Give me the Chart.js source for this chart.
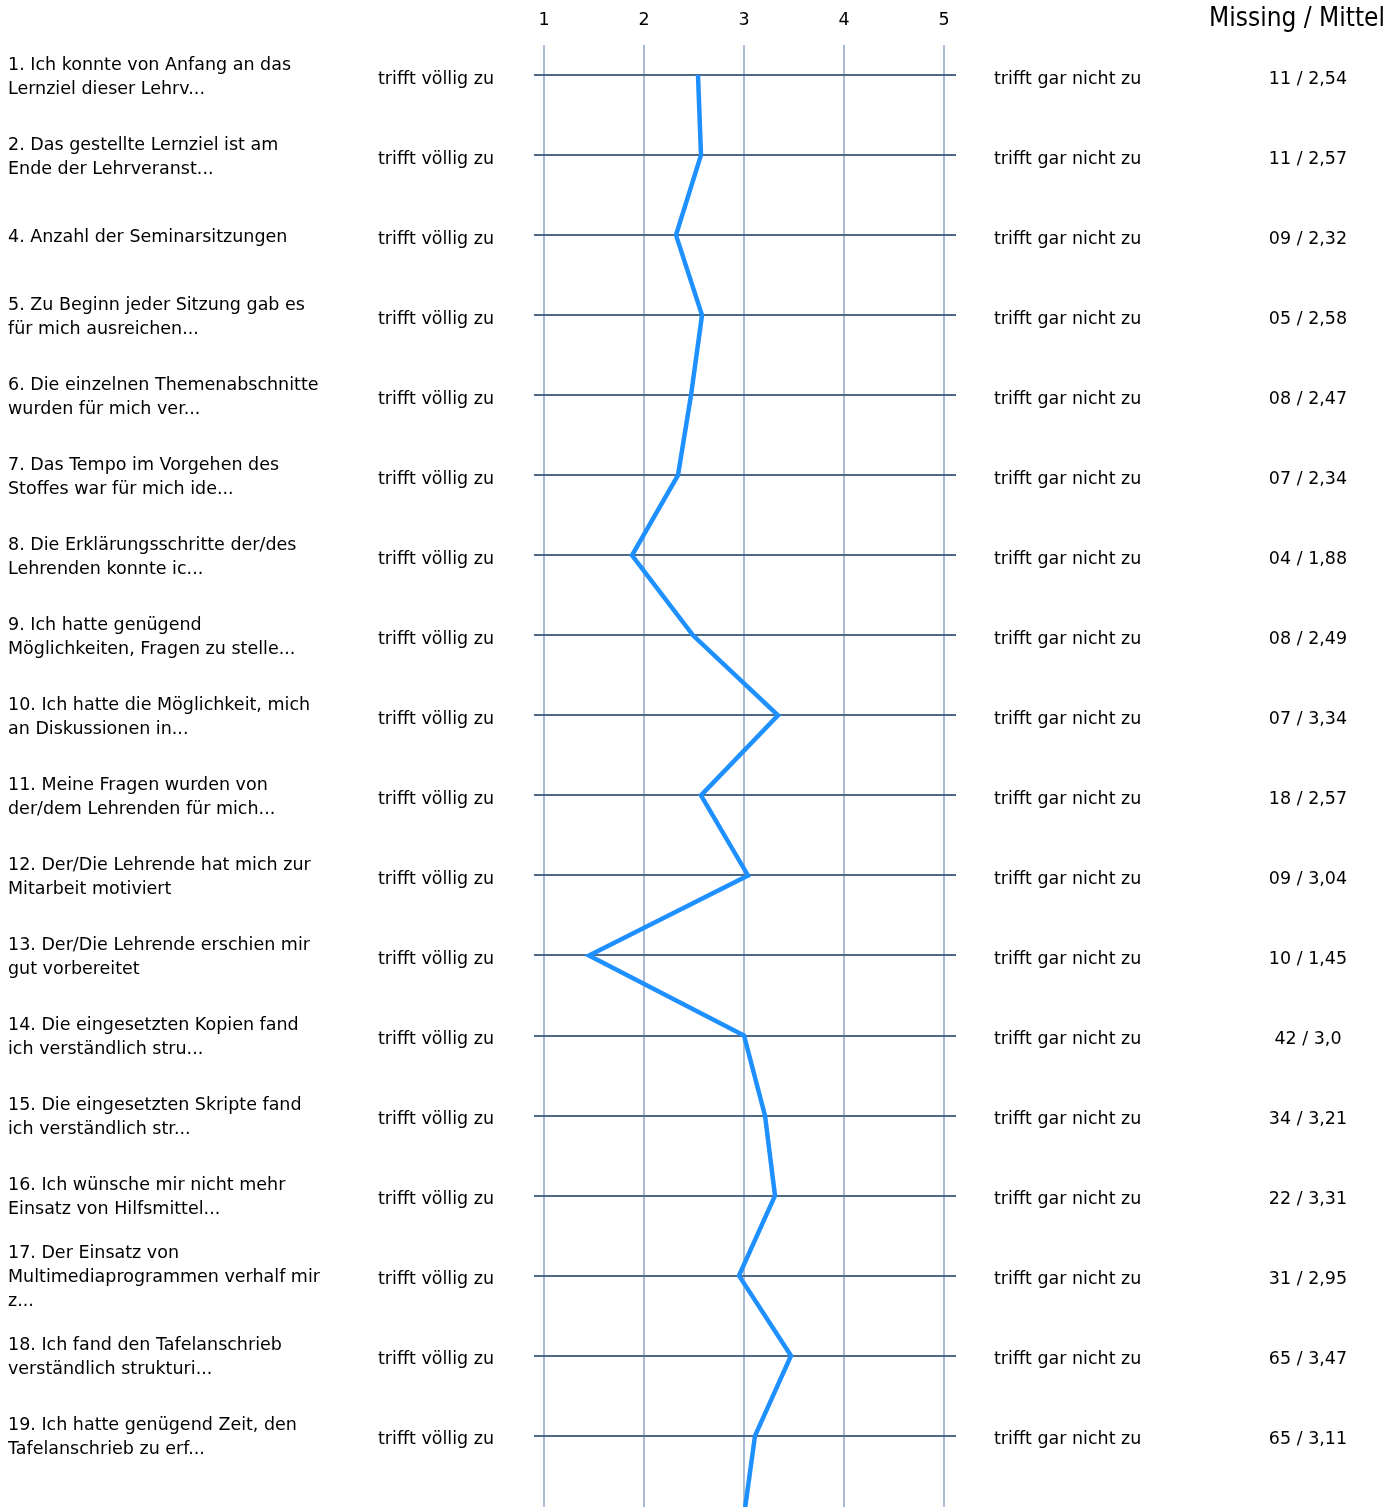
<!DOCTYPE html>
<html>
<head>
    <title>Profillinie</title>
    <style>
        body {
            margin: 0;
            background-color: #ffffff;
        }
        #profileChart {
            display: block;
        }
    </style>
    <script src="https://cdn.jsdelivr.net/npm/chart.js"></script>
</head>
<body>
    <canvas id="profileChart" width="1397" height="1507"></canvas>
    <script>
        // question texts, already wrapped the way the survey report shows them
        const questions = [
            ['1. Ich konnte von Anfang an das', 'Lernziel dieser Lehrv...'],
            ['2. Das gestellte Lernziel ist am', 'Ende der Lehrveranst...'],
            ['4. Anzahl der Seminarsitzungen'],
            ['5. Zu Beginn jeder Sitzung gab es', 'für mich ausreichen...'],
            ['6. Die einzelnen Themenabschnitte', 'wurden für mich ver...'],
            ['7. Das Tempo im Vorgehen des', 'Stoffes war für mich ide...'],
            ['8. Die Erklärungsschritte der/des', 'Lehrenden konnte ic...'],
            ['9. Ich hatte genügend', 'Möglichkeiten, Fragen zu stelle...'],
            ['10. Ich hatte die Möglichkeit, mich', 'an Diskussionen in...'],
            ['11. Meine Fragen wurden von', 'der/dem Lehrenden für mich...'],
            ['12. Der/Die Lehrende hat mich zur', 'Mitarbeit motiviert'],
            ['13. Der/Die Lehrende erschien mir', 'gut vorbereitet'],
            ['14. Die eingesetzten Kopien fand', 'ich verständlich stru...'],
            ['15. Die eingesetzten Skripte fand', 'ich verständlich str...'],
            ['16. Ich wünsche mir nicht mehr', 'Einsatz von Hilfsmittel...'],
            ['17. Der Einsatz von', 'Multimediaprogrammen verhalf mir', 'z...'],
            ['18. Ich fand den Tafelanschrieb', 'verständlich strukturi...'],
            ['19. Ich hatte genügend Zeit, den', 'Tafelanschrieb zu erf...']
        ];

        const missing = ['11', '11', '09', '05', '08', '07', '04', '08', '07', '18', '09', '10', '42', '34', '22', '31', '65', '65'];
        const means = ['2,54', '2,57', '2,32', '2,58', '2,47', '2,34', '1,88', '2,49', '3,34', '2,57', '3,04', '1,45', '3,0', '3,21', '3,31', '2,95', '3,47', '3,11'];

        // the profile runs on past the bottom edge to the next (cut off) item
        const nextItemMean = 3.0;

        const leftPole = 'trifft völlig zu';
        const rightPole = 'trifft gar nicht zu';
        const scaleTicks = [1, 2, 3, 4, 5];
        const headerText = 'Missing / Mittel';

        const FONT = '"DejaVu Sans", sans-serif';
        const HEAD_FONT = '"DejaVu Sans Condensed", "DejaVu Sans", sans-serif';

        const points = means.map((m, i) => ({ x: parseFloat(m.replace(',', '.')), y: i }));
        points.push({ x: nextItemMean, y: questions.length });

        const textColumns = {
            id: 'textColumns',
            afterDraw(chart) {
                const ctx = chart.ctx;
                const yScale = chart.scales.y;
                ctx.save();
                ctx.fillStyle = '#000000';
                ctx.textBaseline = 'middle';
                ctx.font = '17.5px ' + FONT;

                questions.forEach((lines, i) => {
                    const y = yScale.getPixelForValue(i);
                    ctx.textAlign = 'left';
                    lines.forEach((line, k) => {
                        ctx.fillText(line, 8, y + 2 + (k - (lines.length - 1) / 2) * 24);
                    });
                    ctx.fillText(leftPole, 378, y + 4);
                    ctx.fillText(rightPole, 994, y + 4);
                    ctx.textAlign = 'center';
                    ctx.fillText(missing[i] + ' / ' + means[i], 1308, y + 4);
                });

                ctx.textAlign = 'right';
                ctx.font = '26px ' + HEAD_FONT;
                ctx.fillText(headerText, 1385, 19);
                ctx.restore();
            }
        };

        const ctx = document.getElementById('profileChart').getContext('2d');
        new Chart(ctx, {
            type: 'scatter',
            data: {
                datasets: [{
                    data: points,
                    showLine: true,
                    borderColor: '#1e90ff',
                    borderWidth: 4.5,
                    pointRadius: 0,
                    pointHoverRadius: 0,
                    tension: 0
                }]
            },
            options: {
                responsive: false,
                animation: false,
                events: [],
                layout: {
                    padding: { left: 534, right: 441, top: -4, bottom: 0 }
                },
                plugins: {
                    legend: { display: false },
                    tooltip: { enabled: false }
                },
                scales: {
                    x: {
                        type: 'linear',
                        position: 'top',
                        min: 0.9,
                        max: 5.12,
                        afterBuildTicks: axis => { axis.ticks = scaleTicks.map(v => ({ value: v })); },
                        border: { display: false },
                        grid: {
                            color: '#abbbd4',
                            lineWidth: 2,
                            drawTicks: false
                        },
                        ticks: {
                            padding: 14,
                            color: '#000000',
                            font: { family: FONT, size: 17.5 }
                        }
                    },
                    y: {
                        type: 'linear',
                        reverse: true,
                        min: -0.375,
                        max: 17.89,
                        afterBuildTicks: axis => { axis.ticks = questions.map((q, i) => ({ value: i })); },
                        border: { display: false },
                        grid: {
                            color: '#4f6a86',
                            lineWidth: 2,
                            drawTicks: false
                        },
                        ticks: { display: false }
                    }
                }
            },
            plugins: [textColumns]
        });
    </script>
</body>
</html>
